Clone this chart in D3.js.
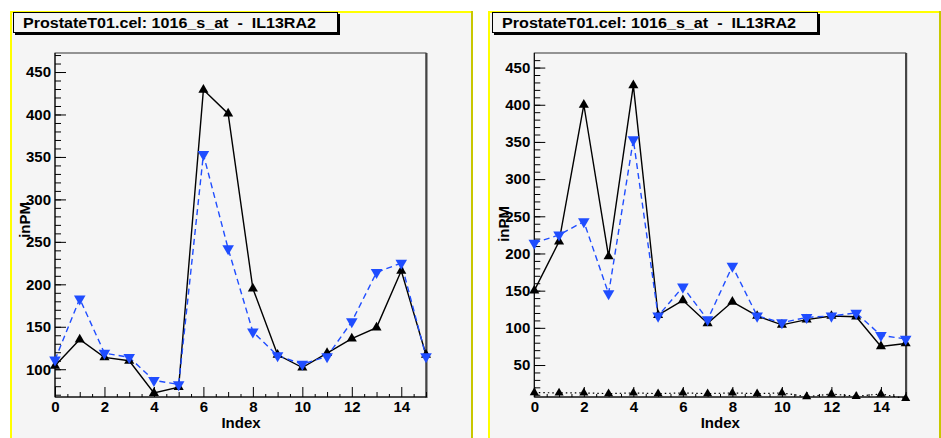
<!DOCTYPE html>
<html><head><meta charset="utf-8">
<script src="https://cdn.jsdelivr.net/npm/d3@7"></script>
<style>
html,body{margin:0;padding:0;background:#fff;}
svg{display:block;}
text{font-family:"Liberation Sans",Arial,sans-serif;font-weight:bold;fill:#000;}
</style></head>
<body>
<script>
// ---------- data ----------
const titleText = "ProstateT01.cel: 1016_s_at  -  IL13RA2";
const indexes = [0,1,2,3,4,5,6,7,8,9,10,11,12,13,14,15];
const xTicks = [0,2,4,6,8,10,12,14];
const leftBlack = [104,135,114,110,72,79,429,401,195,117,102,119,136,149,216,117];
const leftBlue  = [111,183,119,114,87,82,353,242,144,116,106,115,156,214,225,115];
const rightBlack = [150,216,400,196,426,117,137,106,135,116,104,111,116,115,75,79];
const rightBlue  = [214,225,243,146,353,116,155,111,183,116,107,114,116,120,90,85];
const rightBottom = [13,12.5,12.5,11.5,12.5,11.5,12.5,11.5,12.5,11.5,12.5,7.5,11,8,11,5];
const leftYTicks = [100,150,200,250,300,350,400,450];
const rightYTicks = [50,100,150,200,250,300,350,400,450];

const W = 941, H = 438;
const svg = d3.select("body").append("svg").attr("width", W).attr("height", H);

const BLUE = "#1f4dff";

function panel(opts){
  const g = svg.append("g");
  // panel background
  g.append("rect").attr("x", opts.px).attr("y", 11).attr("width", opts.pw).attr("height", H - 11)
    .attr("fill", "#f5f5f5");
  // yellow borders
  g.append("line").attr("x1", opts.px + 1).attr("x2", opts.px + 1).attr("y1", 11).attr("y2", H)
    .attr("stroke", "#ffff00").attr("stroke-width", 2);
  g.append("line").attr("x1", opts.px).attr("x2", opts.px + opts.pw).attr("y1", 12).attr("y2", 12)
    .attr("stroke", "#ffff00").attr("stroke-width", 2);
  g.append("line").attr("x1", opts.px + opts.pw - 1).attr("x2", opts.px + opts.pw - 1).attr("y1", 11).attr("y2", H)
    .attr("stroke", "#c8c800").attr("stroke-width", 2);

  const x = d3.scaleLinear().domain([0, 15]).range([opts.fx0, opts.fx1]);
  const y = d3.scaleLinear().domain(opts.ydom).range([397, 53]);

  // frame
  g.append("rect").attr("x", opts.fx0).attr("y", 53).attr("width", opts.fx1 - opts.fx0).attr("height", 397 - 53)
    .attr("fill", "none").attr("stroke", "#333").attr("stroke-width", 1);
  g.append("line").attr("x1", opts.fx1 + 0.5).attr("x2", opts.fx1 + 0.5).attr("y1", 53).attr("y2", 398)
    .attr("stroke", "#444").attr("stroke-width", 2);

  // y axis minor ticks
  const yMinor = d3.range(Math.ceil(opts.ydom[0] / 10) * 10, opts.ydom[1], 10);
  g.append("g").attr("transform", `translate(${opts.fx0},0)`)
    .call(d3.axisLeft(y).tickValues(yMinor).tickSizeInner(-6).tickSizeOuter(0).tickFormat(""))
    .call(a => a.select(".domain").remove())
    .call(a => a.selectAll("line").attr("stroke", "#000"));
  const ya = g.append("g").attr("transform", `translate(${opts.fx0},0)`)
    .call(d3.axisLeft(y).tickValues(opts.yticks).tickSizeInner(-11).tickSizeOuter(0).tickPadding(4));
  ya.select(".domain").remove();
  ya.selectAll("line").attr("stroke", "#000");
  ya.selectAll("text").style("font-size", "15px").style("font-family", '"Liberation Sans",Arial,sans-serif').style("font-weight", "bold");
  g.append("line").attr("x1", opts.fx0).attr("x2", opts.fx0).attr("y1", 53).attr("y2", 397).attr("stroke", "#000");

  // x axis ticks
  g.append("g").attr("transform", `translate(0,397)`)
    .call(d3.axisBottom(x).tickValues(d3.range(0.5, 15, 1)).tickSizeInner(-3).tickSizeOuter(0).tickFormat(""))
    .call(a => a.select(".domain").remove())
    .call(a => a.selectAll("line").attr("stroke", "#000"));
  g.append("g").attr("transform", `translate(0,397)`)
    .call(d3.axisBottom(x).tickValues([1,3,5,7,9,11,13,15]).tickSizeInner(-5).tickSizeOuter(0).tickFormat(""))
    .call(a => a.select(".domain").remove())
    .call(a => a.selectAll("line").attr("stroke", "#000"));
  const xa = g.append("g").attr("transform", `translate(0,397)`)
    .call(d3.axisBottom(x).tickValues(xTicks).tickSizeInner(-10).tickSizeOuter(0).tickPadding(4));
  xa.select(".domain").remove();
  xa.selectAll("line").attr("stroke", "#000");
  xa.selectAll("text").style("font-size", "15px").style("font-family", '"Liberation Sans",Arial,sans-serif').style("font-weight", "bold");
  g.append("line").attr("x1", opts.fx0).attr("x2", opts.fx1).attr("y1", 397).attr("y2", 397).attr("stroke", "#000");

  // axis titles
  g.append("text").attr("x", opts.fx0 + 186).attr("y", 428).attr("text-anchor", "middle")
    .style("font-size", "15px").text("Index");
  g.append("text").attr("transform", `translate(${opts.ylx},${opts.yly}) rotate(-90)`)
    .attr("text-anchor", "end").style("font-size", "15px").text("inPM");

  const line = d3.line().x((d, i) => x(indexes[i])).y(d => y(d));

  // series
  opts.series.forEach(s => {
    g.append("path").datum(s.values).attr("d", line).attr("fill", "none")
      .attr("stroke", s.color).attr("stroke-width", s.width)
      .attr("stroke-dasharray", s.dash || null);
  });
  opts.series.forEach(s => {
    g.append("g").selectAll("path").data(s.values).join("path")
      .attr("d", d3.symbol(d3.symbolTriangle, s.size))
      .attr("transform", (d, i) => `translate(${x(indexes[i])},${y(d)}) rotate(${s.down ? 180 : 0})`)
      .attr("fill", s.color);
  });

  // title box
  g.append("rect").attr("x", opts.tx + 2).attr("y", 14).attr("width", opts.tw).attr("height", 21).attr("fill", "#000");
  g.append("rect").attr("x", opts.tx + 0.5).attr("y", 12.5).attr("width", opts.tw - 1).attr("height", 20)
    .attr("fill", "#f5f5f5").attr("stroke", "#000").attr("stroke-width", 1);
  g.append("text").attr("x", opts.tx + 10).attr("y", 28).style("font-size", "14px")
    .style("white-space", "pre").attr("xml:space", "preserve")
    .attr("textLength", opts.tw - 32).attr("lengthAdjust", "spacingAndGlyphs").text(titleText);
}

panel({
  px: 10, pw: 463, fx0: 55, fx1: 426, ydom: [67.3, 472.4], yticks: leftYTicks,
  ylx: 30, yly: 202, tx: 13, tw: 325,
  series: [
    {values: leftBlack, color: "#000", width: 1.4, size: 44, down: false},
    {values: leftBlue, color: BLUE, width: 1.4, dash: "6,4", size: 58, down: true}
  ]
});
panel({
  px: 488, pw: 453, fx0: 534.3, fx1: 905.7, ydom: [7, 469.6], yticks: rightYTicks,
  ylx: 509, yly: 206, tx: 492, tw: 326,
  series: [
    {values: rightBottom, color: "#000", width: 1.2, dash: "1.5,3", size: 36, down: false},
    {values: rightBlack, color: "#000", width: 1.4, size: 44, down: false},
    {values: rightBlue, color: BLUE, width: 1.4, dash: "6,4", size: 58, down: true}
  ]
});
</script>
</body></html>
